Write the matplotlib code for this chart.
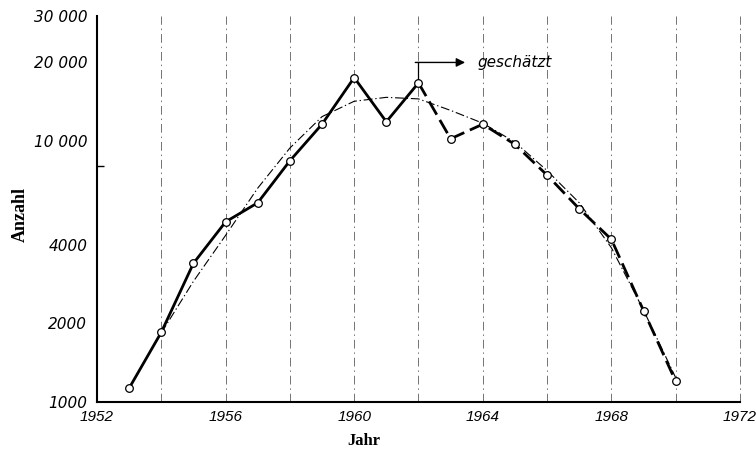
import matplotlib
matplotlib.use('Agg')
import matplotlib.pyplot as plt
from matplotlib.ticker import FixedLocator, FixedFormatter, NullFormatter

# --- data ---
years = [1953, 1954, 1955, 1956, 1957, 1958, 1959, 1960, 1961,
         1962, 1963, 1964, 1965, 1966, 1967, 1968, 1969, 1970]
counts = [1130, 1850, 3400, 4900, 5800, 8400, 11600, 17500, 11850,
          16700, 10200, 11600, 9700, 7400, 5500, 4200, 2240, 1200]
estimated_from = 1962

trend_years = [1954, 1955, 1956, 1957, 1958, 1959, 1960, 1961, 1962,
               1963, 1964, 1965, 1966, 1967, 1968, 1969, 1970]
trend_counts = [1840, 2900, 4350, 6600, 9400, 12400, 14200, 14700, 14500,
                13100, 11700, 9900, 7700, 5800, 3900, 2250, 1240]

y_ticks = [1000, 2000, 4000, 10000, 20000, 30000]
y_tick_labels = ['1000', '2000', '4000', '10 000', '20 000', '30 000']
x_ticks = [1952, 1956, 1960, 1964, 1968, 1972]
x_tick_labels = ['1952', '1956', '1960', '1964', '1968', '1972']
grid_years = [1954, 1956, 1958, 1960, 1962, 1964, 1966, 1968, 1970, 1972]
minor_y_ticks = [8000]
arrow_level = 20000
arrow_end_year = 1963.45
label_year = 1963.85

fig = plt.figure(figsize=(7.56, 4.54), dpi=100)
ax = fig.add_axes([0.1283, 0.1145, 0.8505, 0.8492])
ax.set_yscale('log')
ax.set_xlim(1952, 1972)
ax.set_ylim(1000, 30000)

# vertical dash-dot grid
for gx in grid_years:
    ax.axvline(gx, color='0.45', lw=0.7, dashes=(9, 4, 1.5, 4), zorder=1,
               clip_on=False)

# fitted trend curve (thin dash-dot)
ax.plot(trend_years, trend_counts, color='black', lw=0.8,
        dashes=(8, 2.5, 1.2, 2.5), zorder=2)

# observed (solid) and estimated (dashed) values
i = years.index(estimated_from)
ax.plot(years[:i + 1], counts[:i + 1], color='black', lw=2.0, zorder=3)
ax.plot(years[i:], counts[i:], color='black', lw=2.0, dashes=(5.5, 2.2), zorder=3)
ax.plot(years, counts, ls='none', marker='o', ms=5.5, mfc='white',
        mec='black', mew=0.9, zorder=4)

# "geschätzt" marker
ax.plot([years[i], years[i]], [counts[i], arrow_level], color='black',
        lw=0.9, zorder=3)
ax.annotate('', xy=(arrow_end_year, arrow_level),
            xytext=(years[i] - 0.1, arrow_level),
            arrowprops=dict(arrowstyle='-|>', color='black', lw=1.0,
                            mutation_scale=13, shrinkA=0, shrinkB=0))
ax.text(label_year, arrow_level, 'geschätzt', style='italic', fontsize=11,
        va='center', ha='left', family='DejaVu Sans')

# axes styling
for s in ['top', 'right']:
    ax.spines[s].set_visible(False)
for s in ['left', 'bottom']:
    ax.spines[s].set_linewidth(1.5)

ax.yaxis.set_major_locator(FixedLocator(y_ticks))
ax.yaxis.set_major_formatter(FixedFormatter(y_tick_labels))
ax.yaxis.set_minor_locator(FixedLocator(minor_y_ticks))
ax.yaxis.set_minor_formatter(NullFormatter())
ax.xaxis.set_major_locator(FixedLocator(x_ticks))
ax.xaxis.set_major_formatter(FixedFormatter(x_tick_labels))
ax.tick_params(which='major', length=0)
ax.tick_params(axis='y', which='major', pad=7)
ax.tick_params(axis='x', which='major', pad=6)
ax.tick_params(axis='y', which='minor', direction='in', length=5, width=1)
for lab in ax.get_yticklabels():
    lab.set_fontstyle('italic'); lab.set_fontsize(11)
for lab in ax.get_xticklabels():
    lab.set_fontstyle('italic'); lab.set_fontsize(11)
    lab.set_family('Liberation Sans')

fig.text(20 / 756, 1 - 214 / 454, 'Anzahl', rotation=90, ha='center',
         va='center', family='Liberation Serif', fontweight='bold', fontsize=13)
fig.text(364 / 756, 1 - 441 / 454, 'Jahr', ha='center', va='center',
         family='Liberation Serif', fontweight='bold', fontsize=12)

fig.savefig('out.png', dpi=100)
